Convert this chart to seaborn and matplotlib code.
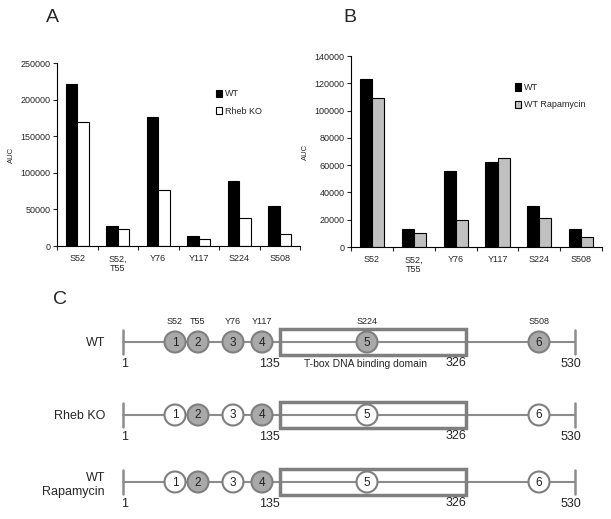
import matplotlib.pyplot as plt
import seaborn as sns
import pandas as pd
from matplotlib.patches import Circle, Rectangle

# ---- data -------------------------------------------------------------
sites = ["S52", "S52,\nT55", "Y76", "Y117", "S224", "S508"]

a_wt = [222000, 27000, 176000, 13000, 89000, 55000]
a_rheb_ko = [170000, 23000, 76000, 10000, 38000, 16000]

b_wt = [123000, 13500, 55500, 62000, 30000, 13500]
b_rapamycin = [109500, 10500, 20000, 65500, 21000, 7000]

# schematic (panel C)
site_names = ["S52", "T55", "Y76", "Y117", "S224", "S508"]
site_pos = [175, 198, 233, 262, 367, 539]          # schematic x positions
protein_start, protein_end = 123, 575
domain_start, domain_end = 280, 466
residue_labels = ["1", "135", "326", "530"]
rows = ["WT", "Rheb KO", "WT\nRapamycin"]
row_y = [342, 415, 482]
phospho = [
    [1, 1, 1, 1, 1, 1],   # WT
    [0, 1, 0, 1, 0, 0],   # Rheb KO
    [0, 1, 0, 1, 0, 0],   # WT Rapamycin
]

sns.set_theme(style="ticks")
plt.rcParams["font.family"] = ["Liberation Sans", "DejaVu Sans"]

fig = plt.figure(figsize=(6.11, 5.19), dpi=100)


def bar_panel(rect, wt, other, other_name, other_color, ymax, ystep):
    ax = fig.add_axes(rect)
    df = pd.DataFrame({
        "site": sites * 2,
        "auc": wt + other,
        "cond": ["WT"] * len(sites) + [other_name] * len(sites),
    })
    sns.barplot(data=df, x="site", y="auc", hue="cond",
                palette=["black", other_color], edgecolor="black",
                linewidth=0.8, width=0.58, gap=0, ax=ax)
    ax.set_xlim(-0.5, 5.5)
    ax.set_ylim(0, ymax)
    ax.set_yticks(range(0, ymax + 1, ystep))
    ax.ticklabel_format(style="plain", axis="y")
    ax.set_xlabel("")
    ax.set_ylabel("AUC", fontsize=5.5, labelpad=4)
    ax.tick_params(axis="y", labelsize=6.5, length=3, width=0.8, pad=1.5)
    ax.tick_params(axis="x", which="major", labelsize=6.5, length=0, pad=6)
    ax.set_xticks([i - 0.5 for i in range(7)], minor=True)
    ax.tick_params(axis="x", which="minor", length=3, width=0.8)
    for lab in ax.get_xticklabels():
        lab.set_verticalalignment("top")
        lab.set_linespacing(1.15)
    for s in ["top", "right"]:
        ax.spines[s].set_visible(False)
    for s in ["left", "bottom"]:
        ax.spines[s].set_color("black")
        ax.spines[s].set_linewidth(0.8)
    handles, labels = ax.get_legend_handles_labels()
    ax.legend(handles, labels, frameon=False, fontsize=6.5,
              handlelength=0.7, handleheight=0.9, handletextpad=0.3,
              labelspacing=0.9, loc="upper left",
              bbox_to_anchor=(0.62, 0.9))
    return ax


bar_panel([0.0933, 0.526, 0.3977, 0.3526], a_wt, a_rheb_ko,
          "Rheb KO", "white", 250000, 50000)
bar_panel([0.5745, 0.524, 0.411, 0.368], b_wt, b_rapamycin,
          "WT Rapamycin", "#c0c0c0", 140000, 20000)

fig.text(46 / 611, 1 - 17 / 519, "A", fontsize=14, va="center")
fig.text(343 / 611, 1 - 17 / 519, "B", fontsize=14, va="center")
fig.text(53 / 611, 1 - 300 / 519, "C", fontsize=14, va="center")

# ---- panel C schematic ------------------------------------------------
axc = fig.add_axes([0, 0, 1, 229 / 519])
axc.set_xlim(0, 611)
axc.set_ylim(519, 290)
axc.axis("off")

line_c = "#8c8c8c"
edge_c = "#7f7f7f"
fill_c = "#a9a9a9"
r = 10.5

for ri, (name, y) in enumerate(zip(rows, row_y)):
    axc.plot([protein_start, protein_end], [y, y], color=line_c, lw=1.5, zorder=1)
    for xb in (protein_start, protein_end):
        axc.plot([xb, xb], [y - 12, y + 12], color=line_c, lw=1.8, zorder=1)
    axc.add_patch(Rectangle((domain_start, y - 13), domain_end - domain_start, 26,
                            fill=False, edgecolor=edge_c, lw=2.5, zorder=2))
    for k, (xs, on) in enumerate(zip(site_pos, phospho[ri])):
        axc.add_patch(Circle((xs, y), r, facecolor=fill_c if on else "white",
                             edgecolor=edge_c, lw=1.5, zorder=3))
        axc.text(xs, y + 0.5, str(k + 1), fontsize=8.5, ha="center",
                 va="center", color="#222222", zorder=4)
    ny = y + 22
    axc.text(protein_start + 2, ny, residue_labels[0], fontsize=9, ha="center", va="center")
    axc.text(domain_start, ny, residue_labels[1], fontsize=9, ha="right", va="center")
    axc.text(domain_end, ny - 1, residue_labels[2], fontsize=9, ha="right", va="center")
    axc.text(protein_end - 4, ny, residue_labels[3], fontsize=9, ha="center", va="center")
    axc.text(105, y + (3 if "\n" in name else 1), name, fontsize=9, ha="right",
             va="center", multialignment="right", linespacing=1.25)

for xs, nm in zip(site_pos, site_names):
    axc.text(xs, row_y[0] - 21, nm, fontsize=6.5, ha="center", va="center")
axc.text((domain_start + domain_end) / 2 - 8, row_y[0] + 22,
         "T-box DNA binding domain", fontsize=7.5, ha="center", va="center")

fig.savefig("out.png", dpi=100)
